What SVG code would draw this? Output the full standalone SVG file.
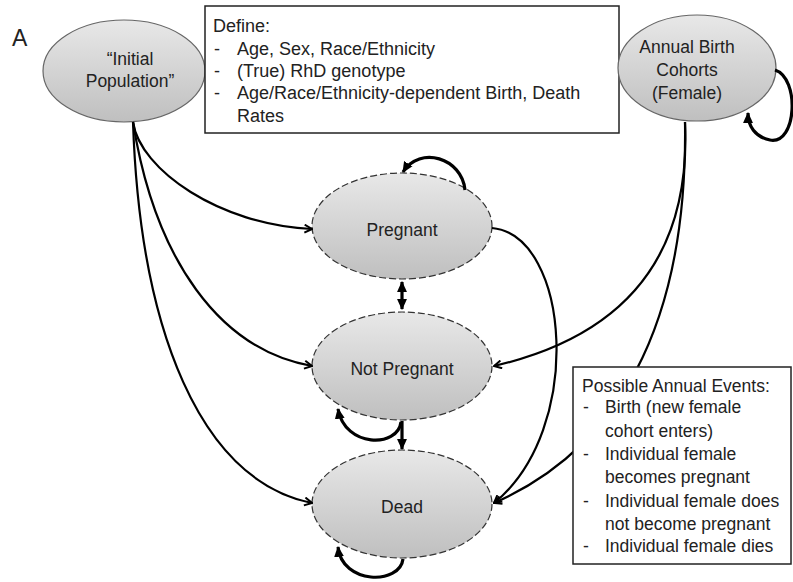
<svg xmlns="http://www.w3.org/2000/svg" width="793" height="582" viewBox="0 0 793 582">
<style>
  text { font-family: "Liberation Sans", Arial, sans-serif; fill: #222; }
  .lbl { font-size: 17.5px; text-anchor: middle; }
  .box { fill: #fff; stroke: #222; stroke-width: 1.5; }
  .bt { font-size: 17.5px; }
  .st { fill: url(#g); stroke: #666; stroke-width: 1.2; }
  .dash { stroke: #333; stroke-dasharray: 7 3; }
  .c { fill: none; stroke: #000; stroke-width: 2.2; }
  .t { fill: none; stroke: #000; stroke-width: 3.2; }
</style>
<defs>
  <linearGradient id="g" x1="0" y1="0" x2="0" y2="1">
    <stop offset="0" stop-color="#e8e8e8"/>
    <stop offset="1" stop-color="#bfbfbf"/>
  </linearGradient>
  <marker id="ch" viewBox="0 0 10 10" refX="9" refY="5" markerWidth="10" markerHeight="10" markerUnits="userSpaceOnUse" orient="auto">
    <path d="M1.5,1 L9,5 L1.5,9" fill="none" stroke="#000" stroke-width="2"/>
  </marker>
  <marker id="tr" viewBox="0 0 10 10" refX="9" refY="5" markerWidth="11" markerHeight="11" markerUnits="userSpaceOnUse" orient="auto-start-reverse">
    <path d="M0,0.5 L10,5 L0,9.5 Z" fill="#000"/>
  </marker>
</defs>

<text x="12" y="46" style="font-size:23px">A</text>

<g id="initial">
  <ellipse class="st" cx="124" cy="71" rx="81" ry="51"/>
  <text class="lbl" x="130" y="65">“Initial</text>
  <text class="lbl" x="130" y="87">Population”</text>
</g>

<g id="define">
  <rect class="box" x="205" y="6" width="414" height="127"/>
  <text class="bt" style="font-size:18px" x="213" y="32">Define:</text>
  <text class="bt" style="font-size:18px" x="214" y="55">-</text>
  <text class="bt" style="font-size:18px" x="237" y="55">Age, Sex, Race/Ethnicity</text>
  <text class="bt" style="font-size:18px" x="214" y="77">-</text>
  <text class="bt" style="font-size:18px" x="237" y="77">(True) RhD genotype</text>
  <text class="bt" style="font-size:18px" x="214" y="99">-</text>
  <text class="bt" style="font-size:18px" x="237" y="99">Age/Race/Ethnicity-dependent Birth, Death</text>
  <text class="bt" style="font-size:18px" x="237" y="122">Rates</text>
</g>

<g id="annual">
  <ellipse class="st" cx="697" cy="68" rx="79" ry="53"/>
  <text class="lbl" x="687" y="53">Annual Birth</text>
  <text class="lbl" x="687" y="76">Cohorts</text>
  <text class="lbl" x="687" y="99">(Female)</text>
</g>

<g id="pregnant">
  <ellipse class="st dash" cx="402" cy="226" rx="90" ry="53"/>
  <text class="lbl" x="402" y="236">Pregnant</text>
</g>

<g id="notpregnant">
  <ellipse class="st dash" cx="402" cy="366" rx="90" ry="54"/>
  <text class="lbl" x="402" y="375">Not Pregnant</text>
</g>

<g id="dead">
  <ellipse class="st dash" cx="402" cy="504" rx="90" ry="54"/>
  <text class="lbl" x="402" y="513">Dead</text>
</g>

<g id="connectors">
  <path class="c" d="M133,122 C140,170 220,225 312,229" marker-end="url(#ch)"/>
  <path class="c" d="M133,122 C155,260 220,350 312,366" marker-end="url(#ch)"/>
  <path class="c" d="M133,122 C140,330 200,480 312,503" marker-end="url(#ch)"/>
  <path class="c" d="M685,122 C690,230 650,330 494,366" marker-end="url(#ch)"/>
  <path class="c" d="M685,122 C688,330 615,450 494,503" marker-end="url(#ch)"/>
  <path class="c" d="M492,228 C570,235 585,430 494,503" marker-end="url(#ch)"/>
  <path class="t" d="M402,282 L402,309" marker-start="url(#tr)" marker-end="url(#tr)"/>
  <path class="t" d="M402,421 L402,449" marker-end="url(#tr)"/>
  <path class="t" d="M465,190 C462,158 420,145 403,172" marker-end="url(#tr)"/>
  <path class="t" d="M401,422 C398,448 345,448 338,409" marker-end="url(#tr)"/>
  <path class="t" d="M403,559 C400,585 342,585 338,547" marker-end="url(#tr)"/>
  <path class="t" d="M775,70 C800,78 797,145 770,140 C755,137 748,126 748,113" marker-end="url(#tr)"/>
</g>

<g id="events">
  <rect class="box" x="573" y="367" width="218" height="197"/>
  <text class="bt" x="582" y="392">Possible Annual Events:</text>
  <text class="bt" x="583" y="413">-</text>
  <text class="bt" x="605" y="413">Birth (new female</text>
  <text class="bt" x="605" y="437">cohort enters)</text>
  <text class="bt" x="583" y="460">-</text>
  <text class="bt" x="605" y="460">Individual female</text>
  <text class="bt" x="605" y="483">becomes pregnant</text>
  <text class="bt" x="583" y="507">-</text>
  <text class="bt" x="605" y="507">Individual female does</text>
  <text class="bt" x="605" y="530">not become pregnant</text>
  <text class="bt" x="583" y="552">-</text>
  <text class="bt" x="605" y="552">Individual female dies</text>
</g>
</svg>
